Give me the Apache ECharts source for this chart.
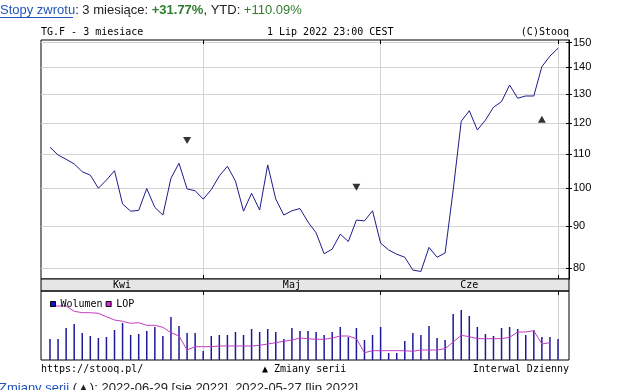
<!DOCTYPE html>
<html><head><meta charset="utf-8">
<script src="https://cdn.jsdelivr.net/npm/echarts@6/dist/echarts.min.js"></script>
<style>html,body{margin:0;padding:0;background:#fff;overflow:hidden}#c{width:628px;height:390px}</style>
</head><body><div id="c"></div>
<script>
// ---- data ----
const dates = [
 '2022-04-01','2022-04-04','2022-04-05','2022-04-06','2022-04-07','2022-04-08','2022-04-11','2022-04-12','2022-04-13','2022-04-14',
 '2022-04-19','2022-04-20','2022-04-21','2022-04-22','2022-04-25','2022-04-26','2022-04-27','2022-04-28','2022-04-29',
 '2022-05-02','2022-05-03','2022-05-04','2022-05-05','2022-05-06','2022-05-09','2022-05-10','2022-05-11','2022-05-12','2022-05-13',
 '2022-05-16','2022-05-17','2022-05-18','2022-05-19','2022-05-20','2022-05-23','2022-05-24','2022-05-25','2022-05-26','2022-05-27',
 '2022-05-30','2022-05-31',
 '2022-06-01','2022-06-02','2022-06-03','2022-06-06','2022-06-07','2022-06-08','2022-06-09','2022-06-10','2022-06-13','2022-06-14',
 '2022-06-15','2022-06-16','2022-06-17','2022-06-20','2022-06-21','2022-06-22','2022-06-23','2022-06-24','2022-06-27','2022-06-28',
 '2022-06-29','2022-06-30',
 '2022-07-01'];
const price = [112.1,109.7,108.4,107.0,104.7,103.7,100.0,102.3,105.0,95.7,
 93.8,94.0,99.9,94.8,92.8,102.8,107.2,99.8,99.3,97.0,
 99.6,103.5,106.3,102.0,93.8,98.6,94.1,106.7,97.0,92.8,
 93.9,94.5,91.0,88.3,83.3,84.4,88.0,86.2,91.5,91.3,
 93.9,85.8,84.2,83.2,82.5,79.6,79.3,84.8,82.5,83.5,
 99.5,120.5,124.1,117.6,120.9,125.3,127.3,133.3,128.5,129.3,
 129.3,140.3,144.5,147.7];
const volume = [21,21,32,36,27,24,22,23,30,37,
 25,26,29,33,24,43,34,27,27,9,
 24,25,25,28,25,31,28,31,28,21,
 32,29,29,28,25,28,33,23,32,20,
 25,33,7,7,19,27,25,34,22,20,
 46,50,44,33,26,24,32,33,31,25,
 30,23,23,21];
const lop = [54,54,54,48.7,47.3,47.3,46.7,43.3,40,38.7,
 36.7,37.3,34.7,34.7,32.7,27.3,24,10,13.3,13.3,
 13.3,14,14,14,14,14,14.7,16,17.3,18.7,
 20,22,21.3,20.7,20.7,22,24,24,21.3,7.3,
 9.3,9.3,9.3,9.3,9.3,8.7,10,10,10,11.3,
 18,24.7,23.3,21.3,21.3,21.3,21.3,22.7,28,28,
 29.3,16,17.3,null];
const yTicks = [80,90,100,110,120,130,140,150];
const monthLabels = ['Kwi','Maj','Cze'];
const monthStarts = ['2022-05-02','2022-06-01','2022-07-01'];
const markersDown = [['2022-04-28',114.2],['2022-05-27',100.3]];
const markersUp = [['2022-06-29',121.2]];

// ---- build ----
const idx = d => dates.indexOf(d);
const X_MIN = -1.116, X_MAX = 64.364;
const bounds = monthStarts.map(idx);
const labelPos = [(X_MIN + bounds[0]) / 2, (bounds[0] + bounds[1]) / 2, (bounds[1] + bounds[2]) / 2];
const labelMap = {};
labelPos.forEach((p, i) => labelMap[p.toFixed(3)] = monthLabels[i]);

const MONO = '"DejaVu Sans Mono", monospace';
const GRID_C = '#d2d2d2';
const LINE_C = '#1c1c8c';

const chart = echarts.init(document.getElementById('c'), null, {renderer: 'canvas'});
const baseX = {type: 'value', min: X_MIN, max: X_MAX, axisLabel: {show: false}, axisLine: {show: false, onZero: false},
  axisTick: {show: false}, splitLine: {show: false}};

chart.setOption({
  animation: false,
  backgroundColor: '#fff',
  grid: [
    {left: 41, top: 40, width: 528, height: 239, show: true, borderColor: '#000', borderWidth: 1, backgroundColor: 'transparent'},
    {left: 41, top: 279, width: 528, height: 12, show: true, borderColor: '#000', borderWidth: 1, backgroundColor: '#e6e6e6'},
    {left: 41, top: 291, width: 528, height: 69, show: true, borderColor: '#000', borderWidth: 1, backgroundColor: 'transparent'}
  ],
  xAxis: [
    Object.assign({}, baseX, {gridIndex: 0, position: 'bottom',
      axisTick: {show: true, inside: true, length: 4, customValues: bounds, lineStyle: {color: '#000'}},
      splitLine: {show: true, lineStyle: {color: GRID_C, width: 1}}}),
    Object.assign({}, baseX, {gridIndex: 0, position: 'top',
      axisTick: {show: true, inside: true, length: 4, customValues: bounds, lineStyle: {color: '#000'}}}),
    Object.assign({}, baseX, {gridIndex: 1, position: 'bottom',
      axisLabel: {show: true, customValues: labelPos, margin: -6, verticalAlign: 'middle',
        formatter: v => labelMap[Number(v).toFixed(3)] || '',
        fontFamily: MONO, fontSize: 10, color: '#000'}}),
    Object.assign({}, baseX, {gridIndex: 2, position: 'top',
      axisTick: {show: true, inside: true, length: 4, customValues: bounds, lineStyle: {color: '#000'}},
      splitLine: {show: true, lineStyle: {color: GRID_C, width: 1}}})
  ],
  yAxis: [
    {gridIndex: 0, type: 'log', logBase: 10, position: 'right', min: 77.65, max: 151.13,
      axisLine: {show: true, onZero: false, lineStyle: {color: '#000'}},
      axisTick: {show: true, inside: false, length: 3, customValues: yTicks, lineStyle: {color: '#000'}},
      axisLabel: {show: true, customValues: yTicks, margin: 4, fontFamily: '"Liberation Sans", Arial, sans-serif', fontSize: 11, color: '#000'},
      splitLine: {show: true, lineStyle: {color: GRID_C, width: 1}}},
    {gridIndex: 0, type: 'log', logBase: 10, position: 'right', min: 77.65, max: 151.13,
      axisLine: {show: false, onZero: false},
      axisTick: {show: true, inside: true, length: 3, customValues: yTicks, lineStyle: {color: '#000'}},
      axisLabel: {show: false}, splitLine: {show: false}},
    {gridIndex: 1, type: 'value', min: 0, max: 1, show: false},
    {gridIndex: 2, type: 'value', min: 0, max: 69, show: false},
    {gridIndex: 2, type: 'value', min: 0, max: 69, show: false}
  ],
  legend: {
    left: 45, top: 294, orient: 'horizontal', itemWidth: 5, itemHeight: 5, itemGap: 3,
    textStyle: {fontFamily: MONO, fontSize: 10, color: '#000'},
    selectedMode: false,
    data: [
      {name: 'Wolumen', icon: 'rect', itemStyle: {color: '#1010d0', borderColor: '#000', borderWidth: 1}},
      {name: 'LOP', icon: 'rect', itemStyle: {color: '#e020e0', borderColor: '#000', borderWidth: 1}}
    ]
  },
  series: [
    {name: 'Kurs', type: 'line', xAxisIndex: 0, yAxisIndex: 0, symbol: 'none',
      lineStyle: {color: LINE_C, width: 1}, data: price.map((v, i) => [i, v])},
    {name: 'down', type: 'scatter', xAxisIndex: 0, yAxisIndex: 0, symbol: 'triangle', symbolRotate: 180,
      symbolSize: [8, 7], itemStyle: {color: '#000'}, data: markersDown.map(m => [idx(m[0]), m[1]])},
    {name: 'up', type: 'scatter', xAxisIndex: 0, yAxisIndex: 0, symbol: 'triangle',
      symbolSize: [8, 7], itemStyle: {color: '#000'}, data: markersUp.map(m => [idx(m[0]), m[1]])},
    {name: 'Wolumen', type: 'bar', xAxisIndex: 3, yAxisIndex: 3, barWidth: 1.5,
      itemStyle: {color: '#1a1a99'}, data: volume.map((v, i) => [i, v])},
    {name: 'LOP', type: 'line', xAxisIndex: 3, yAxisIndex: 4, symbol: 'none',
      lineStyle: {color: '#c43cc4', width: 1}, data: lop.map((v, i) => [i, v])}
  ],
  graphic: [
    {type: 'text', left: 0, top: 4, style: {
      text: '{a|Stopy zwrotu}: 3 miesiące: {b|+31.77%}, YTD: {c|+110.09%}',
      font: '13px "Liberation Sans", Arial, sans-serif', fill: '#222',
      rich: {a: {fill: '#2255bb', font: '13px "Liberation Sans", Arial, sans-serif'},
             b: {fill: '#2e7d2e', font: 'bold 13px "Liberation Sans", Arial, sans-serif'},
             c: {fill: '#2e7d2e', font: '13px "Liberation Sans", Arial, sans-serif'}}}},
    {type: 'line', shape: {x1: 0, y1: 17.5, x2: 73, y2: 17.5}, style: {stroke: '#2255bb', lineWidth: 1}},
    {type: 'text', x: 41, y: 32.5, style: {text: 'TG.F - 3 miesiace', font: '10px "DejaVu Sans Mono", monospace', fill: '#000', verticalAlign: 'middle'}},
    {type: 'text', x: 267, y: 32.5, style: {text: '1 Lip 2022 23:00 CEST', font: '10px "DejaVu Sans Mono", monospace', fill: '#000', verticalAlign: 'middle'}},
    {type: 'text', x: 569, y: 32.5, style: {text: '(C)Stooq', font: '10px "DejaVu Sans Mono", monospace', fill: '#000', align: 'right', verticalAlign: 'middle'}},
    {type: 'text', x: 41, y: 369, style: {text: 'https://stooq.pl/', font: '10px "DejaVu Sans Mono", monospace', fill: '#000', verticalAlign: 'middle'}},
    {type: 'text', x: 262, y: 369, style: {text: '▲ Zmiany serii', font: '10px "DejaVu Sans Mono", monospace', fill: '#000', verticalAlign: 'middle'}},
    {type: 'text', x: 569, y: 369, style: {text: 'Interwal Dzienny', font: '10px "DejaVu Sans Mono", monospace', fill: '#000', align: 'right', verticalAlign: 'middle'}},
    {type: 'text', left: -1, top: 382, style: {
      text: '{a|Zmiany serii} (▲): 2022-06-29 [sie 2022], 2022-05-27 [lip 2022]',
      font: '13px "Liberation Sans", Arial, sans-serif', fill: '#222',
      rich: {a: {fill: '#2255bb', font: '13px "Liberation Sans", Arial, sans-serif'}}}}
  ]
});
</script>
</body></html>
